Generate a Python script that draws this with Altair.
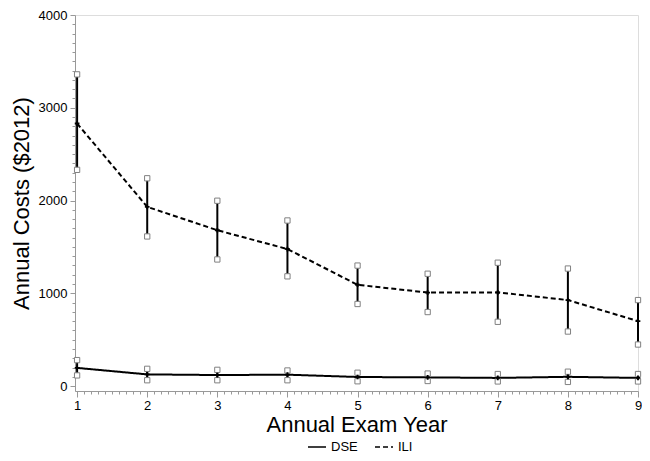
import altair as alt
import pandas as pd
import numpy as np

years = [1, 2, 3, 4, 5, 6, 7, 8, 9]
ili_mean = [2830, 1932, 1680, 1477, 1092, 1008, 1010, 927, 700]
ili_low = [2331, 1613, 1365, 1183, 885, 798, 693, 588, 448]
ili_high = [3360, 2240, 1998, 1785, 1299, 1211, 1330, 1267, 927]
dse_mean = [196, 126, 119, 123, 98, 94, 88, 100, 88]
dse_low = [115, 63, 63, 63, 52, 55, 50, 45, 50]
dse_high = [280, 186, 175, 168, 144, 135, 130, 155, 130]
series = ["DSE", "ILI"]

rows = []
for s, m, lo, hi in [("DSE", dse_mean, dse_low, dse_high), ("ILI", ili_mean, ili_low, ili_high)]:
    for i, y in enumerate(years):
        rows.append({"series": s, "year": y, "mean": m[i], "low": lo[i], "high": hi[i]})
df = pd.DataFrame(rows)

x_minor = [round(float(v), 1) for v in np.arange(1.0, 9.001, 0.1)]
y_minor = list(range(0, 4001, 100))

xscale = alt.Scale(domain=[0.97, 9], nice=False, zero=False)
yscale = alt.Scale(domain=[-53, 4000], nice=False, zero=False)

xaxis = alt.Axis(
    values=x_minor, tickCount=1000,
    labelExpr="abs(datum.value - round(datum.value)) < 0.001 ? format(datum.value, 'd') : ''",
    tickSize={"condition": {"test": "abs(datum.value - round(datum.value)) < 0.001", "value": 6}, "value": 3},
    labelOverlap=False, labelFlush=False, grid=False,
    title="Annual Exam Year", titleFontSize=22, titleFontWeight="normal",
    labelFontSize=13, labelPadding=2, titlePadding=2,
    domainColor="#999999", tickColor="#999999", labelColor="black", titleColor="black",
)
yaxis = alt.Axis(
    values=y_minor, tickCount=1000,
    labelExpr="datum.value % 1000 === 0 ? format(datum.value, 'd') : ''",
    tickSize={"condition": {"test": "datum.value % 1000 === 0", "value": 5}, "value": 3},
    labelOverlap=False, labelFlush=False, grid=False,
    title="Annual Costs ($2012)", titleFontSize=22, titleFontWeight="normal",
    labelFontSize=13, labelPadding=3, titlePadding=5,
    domainColor="#999999", tickColor="#999999", labelColor="black", titleColor="black",
)

base = alt.Chart(df)

line = base.mark_line(color="black", strokeWidth=2).encode(
    x=alt.X("year:Q", scale=xscale, axis=xaxis),
    y=alt.Y("mean:Q", scale=yscale, axis=yaxis),
    strokeDash=alt.StrokeDash(
        "series:N",
        scale=alt.Scale(domain=series, range=[[1, 0], [5, 3]]),
        legend=alt.Legend(
            title=None, orient="none", direction="horizontal",
            legendX=232, legendY=422, symbolType="stroke", symbolSize=324,
            symbolStrokeWidth=1.5, symbolStrokeColor="black",
            labelFontSize=13, columnPadding=14, symbolOffset=0,
        ),
    ),
    detail="series:N",
)

rules = base.mark_rule(color="black", strokeWidth=2).encode(
    x="year:Q",
    y="low:Q",
    y2="high:Q",
)

caps = base.transform_fold(["low", "high"], as_=["end", "val"]).mark_point(
    shape="square", size=28, filled=True, fill="white", stroke="#808080", strokeWidth=1, opacity=1
).encode(
    x="year:Q",
    y="val:Q",
)

means = base.mark_point(shape="cross", size=22, filled=True, color="black", opacity=1).encode(
    x="year:Q",
    y="mean:Q",
)

chart = alt.layer(line, rules, caps, means).properties(
    width=563, height=376,
    autosize=alt.AutoSizeParams(type="none"),
    padding={"left": 67, "top": 7, "right": 4, "bottom": 62},
).configure_view(
    stroke="#999999", strokeWidth=1
).configure(
    font="Liberation Sans"
)

chart.save("out.html", embed_options={"renderer": "svg", "actions": False})
